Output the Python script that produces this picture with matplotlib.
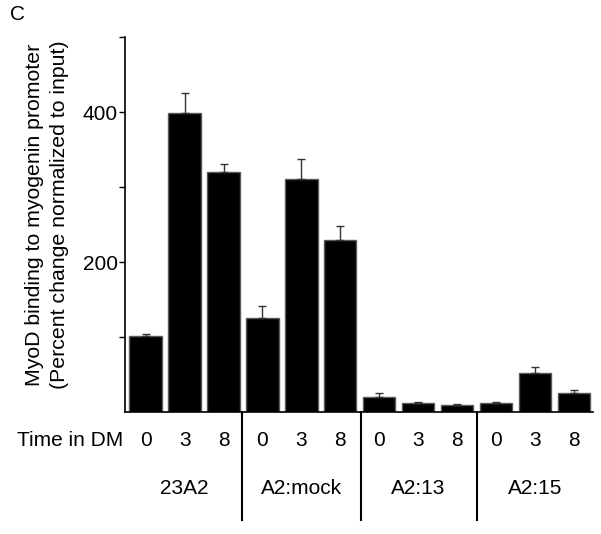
#!/usr/bin/env python3
"""MyoD binding to myogenin promoter, bar chart with error bars (panel C)."""

import matplotlib.pyplot as plt
import matplotlib.transforms as mtransforms

plt.rcParams['font.family'] = ['Liberation Sans', 'DejaVu Sans']

# data
groups = ['23A2', 'A2:mock', 'A2:13', 'A2:15']
times = ['0', '3', '8']
values = [102, 399, 320, 126, 311, 229, 20, 12, 10, 12, 52, 26]
errors = [2, 26, 11, 16, 27, 19, 5, 1, 0.5, 1.5, 8, 3]

FS = 15


def main():
    fig = plt.figure(figsize=(6.01, 5.34), dpi=100)
    ax = fig.add_axes([125 / 601, 1 - 412 / 534, 468 / 601, 375 / 534])

    x = list(range(len(values)))
    ax.bar(x, values, width=0.83, color='black', edgecolor='#5a5a5a', linewidth=1.0,
           yerr=[[0] * len(errors), errors], capsize=3,
           error_kw=dict(ecolor='#333333', elinewidth=1.0, capthick=1.0))

    ax.set_xlim(-0.53, 11.49)
    ax.set_ylim(0, 500)
    ax.set_yticks([100, 200, 300, 400, 500])
    ax.set_yticklabels(['', '200', '', '400', ''])
    ax.tick_params(axis='y', direction='out', length=4, width=1, pad=1, labelsize=FS)
    ax.set_xticks([])

    for side in ('top', 'right'):
        ax.spines[side].set_visible(False)
    ax.spines['left'].set_linewidth(1.2)
    ax.spines['bottom'].set_linewidth(1.2)

    ax.set_ylabel('MyoD binding to myogenin promoter\n(Percent change normalized to input)',
                  fontsize=15.3, linespacing=1.4)
    ax.yaxis.set_label_coords(-0.12, 0.527)

    trans = mtransforms.blended_transform_factory(ax.transData, ax.transAxes)

    # time labels under each bar
    ax.text(-0.58, -0.075, 'Time in DM', transform=trans, ha='right', va='center', fontsize=FS)
    for i in x:
        ax.text(i, -0.075, times[i % 3], transform=trans, ha='center', va='center', fontsize=FS)

    # group labels and separators
    for g, name in enumerate(groups):
        ax.text(3 * g + 1, -0.203, name, transform=trans, ha='center', va='center', fontsize=FS)
    for sep in (2.48, 5.52, 8.5):
        ax.plot([sep, sep], [0, -0.288], transform=trans, color='black', linewidth=1.5, clip_on=False)

    fig.text(10 / 601, 1 - 15 / 534, 'C', ha='left', va='center', fontsize=FS)

    plt.savefig('out.png', dpi=100)


if __name__ == "__main__":
    main()
